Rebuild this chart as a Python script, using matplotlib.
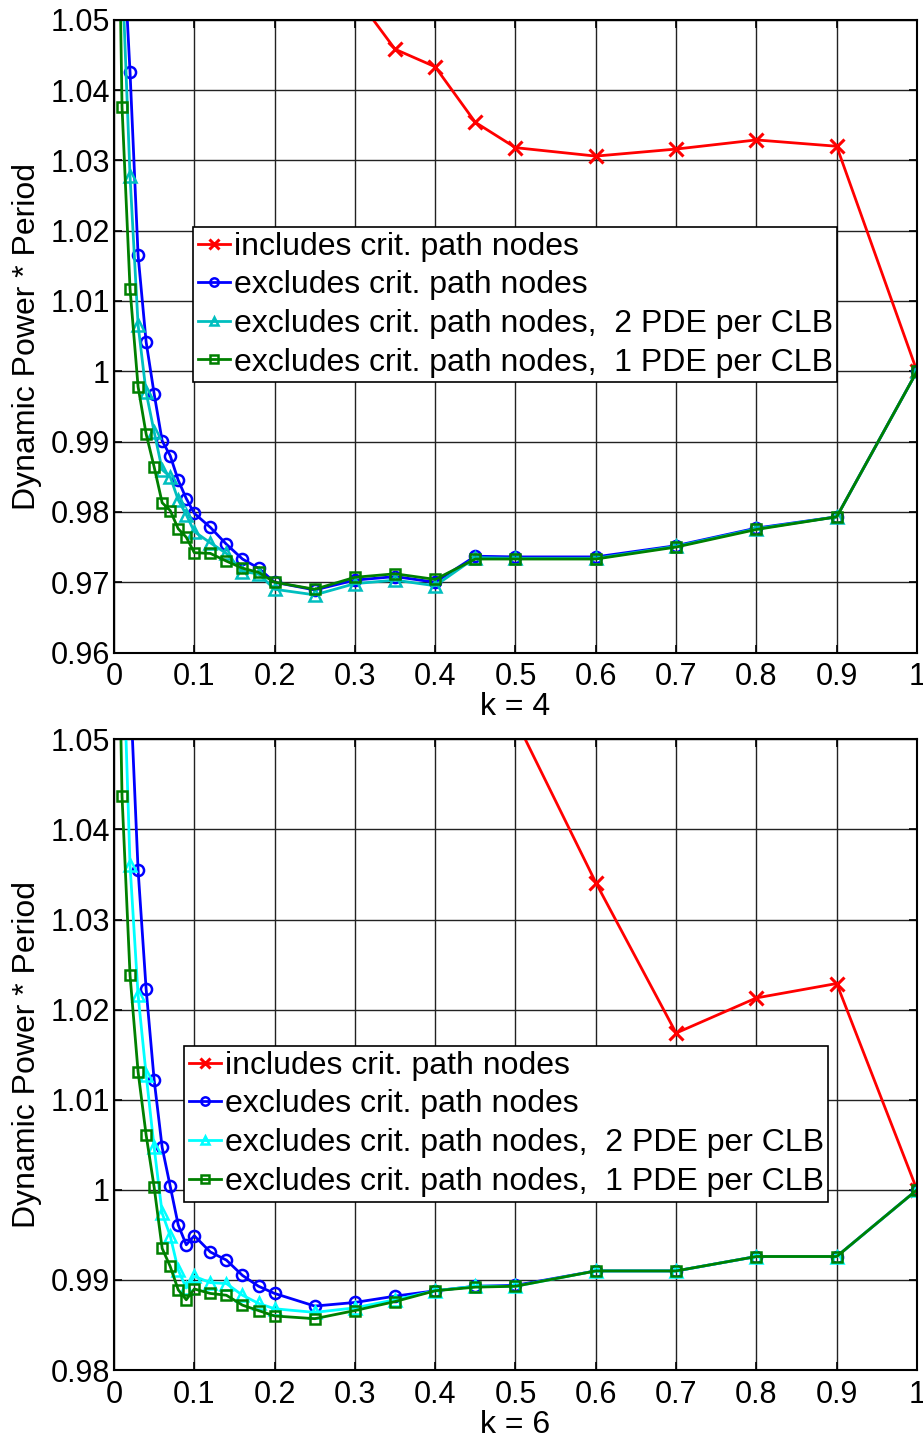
import matplotlib
matplotlib.use("Agg")
import matplotlib.pyplot as plt
from matplotlib.ticker import FixedLocator, FixedFormatter

plt.rcParams['font.family'] = ['Liberation Sans', 'DejaVu Sans']

# ---------------- data ----------------
x = [0.0, 0.01, 0.02, 0.03, 0.04, 0.05, 0.06, 0.07, 0.08, 0.09, 0.1, 0.12, 0.14,
     0.16, 0.18, 0.2, 0.25, 0.3, 0.35, 0.4, 0.45, 0.5, 0.6, 0.7, 0.8, 0.9, 1.0]

# k = 4
k4_red_x = [0.3, 0.35, 0.4, 0.45, 0.5, 0.6, 0.7, 0.8, 0.9, 1.0]
k4_red = [1.0535, 1.0458, 1.0433, 1.0354, 1.0318, 1.0306, 1.0316, 1.0329, 1.0320, 1.0]
k4_blue = [1.15, 1.0645, 1.0425, 1.0165, 1.0042, 0.9968, 0.9901, 0.9880, 0.9845, 0.9819,
           0.9798, 0.9778, 0.9754, 0.9733, 0.9720, 0.9700, 0.9689, 0.9703, 0.9708, 0.9700,
           0.9737, 0.9736, 0.9736, 0.9752, 0.9777, 0.9793, 1.0]
k4_cyan = [1.15, 1.0574, 1.0277, 1.0066, 0.9970, 0.9914, 0.9860, 0.9850, 0.9817, 0.9796,
           0.9772, 0.9756, 0.9741, 0.9715, 0.9712, 0.9690, 0.9682, 0.9698, 0.9703, 0.9695,
           0.9735, 0.9734, 0.9734, 0.9751, 0.9776, 0.9793, 1.0]
k4_green = [1.11, 1.0376, 1.0117, 0.9978, 0.9911, 0.9864, 0.9813, 0.9802, 0.9776, 0.9764,
            0.9742, 0.9741, 0.9730, 0.9720, 0.9714, 0.9700, 0.9690, 0.9707, 0.9712, 0.9704,
            0.9733, 0.9733, 0.9733, 0.9750, 0.9775, 0.9793, 1.0]

# k = 6
k6_red_x = [0.5, 0.6, 0.7, 0.8, 0.9, 1.0]
k6_red = [1.0522, 1.0341, 1.0174, 1.0213, 1.0229, 1.0]
k6_blue = [1.15, 1.08, 1.0562, 1.0355, 1.0223, 1.0122, 1.0047, 1.0004, 0.9961, 0.9939,
           0.9949, 0.9931, 0.9922, 0.9905, 0.9893, 0.9885, 0.9871, 0.9875, 0.9882, 0.9888,
           0.9893, 0.9894, 0.9910, 0.9910, 0.9926, 0.9926, 1.0]
k6_cyan = [1.15, 1.064, 1.0360, 1.0216, 1.0128, 1.0047, 0.9974, 0.9949, 0.9911, 0.9891,
           0.9904, 0.9897, 0.9896, 0.9883, 0.9874, 0.9868, 0.9864, 0.9869, 0.9878, 0.9888,
           0.9893, 0.9893, 0.9910, 0.9910, 0.9926, 0.9926, 1.0]
k6_green = [1.092, 1.0437, 1.0238, 1.0131, 1.0061, 1.0003, 0.9935, 0.9915, 0.9889, 0.9878,
            0.9890, 0.9885, 0.9883, 0.9872, 0.9866, 0.9860, 0.9857, 0.9866, 0.9876, 0.9888,
            0.9892, 0.9893, 0.9910, 0.9910, 0.9926, 0.9926, 1.0]

labels = ["includes crit. path nodes",
          "excludes crit. path nodes",
          "excludes crit. path nodes,  2 PDE per CLB",
          "excludes crit. path nodes,  1 PDE per CLB"]

xticks = [0, 0.1, 0.2, 0.3, 0.4, 0.5, 0.6, 0.7, 0.8, 0.9, 1.0]
xticklabels = ["0", "0.1", "0.2", "0.3", "0.4", "0.5", "0.6", "0.7", "0.8", "0.9", "1"]
k4_yticks = [0.96, 0.97, 0.98, 0.99, 1.0, 1.01, 1.02, 1.03, 1.04, 1.05]
k4_yticklabels = ["0.96", "0.97", "0.98", "0.99", "1", "1.01", "1.02", "1.03", "1.04", "1.05"]
k6_yticks = [0.98, 0.99, 1.0, 1.01, 1.02, 1.03, 1.04, 1.05]
k6_yticklabels = ["0.98", "0.99", "1", "1.01", "1.02", "1.03", "1.04", "1.05"]

# ---------------- figure ----------------
fig = plt.figure(figsize=(9.23, 14.37), dpi=100)
ax1 = fig.add_axes([0.1235, 0.5459, 0.870, 0.4404])
ax2 = fig.add_axes([0.1235, 0.0466, 0.870, 0.4389])

FS_TICK = 22
FS_TEXT = 23
LW = 2.0
MS = 8.0
MEW = 1.8


def draw(ax, red_x, red, blue, cyan, green, cyan_color, yticks, yticklabels, ylim,
         xlabel, leg_anchor):
    ax.plot(red_x, red, color='#FF0000', lw=LW, marker='x', ms=9.5, mew=2.2,
            label=labels[0])
    ax.plot(x, blue, color='#0000FF', lw=LW, marker='o', ms=MS, mew=MEW,
            mfc='none', label=labels[1])
    ax.plot(x, cyan, color=cyan_color, lw=LW, marker='^', ms=MS, mew=MEW,
            mfc='none', label=labels[2])
    ax.plot(x, green, color='#008000', lw=LW, marker='s', ms=7.0, mew=MEW,
            mfc='none', label=labels[3])
    ax.set_xlim(0, 1)
    ax.set_ylim(*ylim)
    ax.xaxis.set_major_locator(FixedLocator(xticks))
    ax.xaxis.set_major_formatter(FixedFormatter(xticklabels))
    ax.yaxis.set_major_locator(FixedLocator(yticks))
    ax.yaxis.set_major_formatter(FixedFormatter(yticklabels))
    ax.grid(True, color='#222222', lw=1.0, ls='-')
    ax.set_axisbelow(True)
    ax.tick_params(direction='in', length=6, width=1.2, labelsize=FS_TICK,
                   top=True, right=True)
    ax.tick_params(axis='x', pad=7)
    ax.tick_params(axis='y', pad=3)
    for s in ax.spines.values():
        s.set_linewidth(1.5)
        s.set_zorder(5)
    ax.set_ylabel("Dynamic Power * Period", fontsize=FS_TEXT, labelpad=6)
    ax.set_xlabel(xlabel, fontsize=FS_TEXT, labelpad=0)
    leg = ax.legend(loc='upper left', bbox_to_anchor=leg_anchor, borderaxespad=0,
                    fontsize=FS_TEXT, frameon=True, fancybox=False, shadow=False,
                    handlelength=1.0, handletextpad=0.12, labelspacing=0.27,
                    borderpad=0.15, markerscale=0.75)
    leg.get_frame().set_edgecolor('black')
    leg.get_frame().set_linewidth(1.2)
    leg.get_frame().set_alpha(1.0)


draw(ax1, k4_red_x, k4_red, k4_blue, k4_cyan, k4_green, '#00BFBF',
     k4_yticks, k4_yticklabels, (0.96, 1.05), "k = 4", (0.0984, 0.6725))
draw(ax2, k6_red_x, k6_red, k6_blue, k6_cyan, k6_green, '#00FFFF',
     k6_yticks, k6_yticklabels, (0.98, 1.05), "k = 6", (0.0872, 0.5137))

fig.savefig("out.png", dpi=100)
